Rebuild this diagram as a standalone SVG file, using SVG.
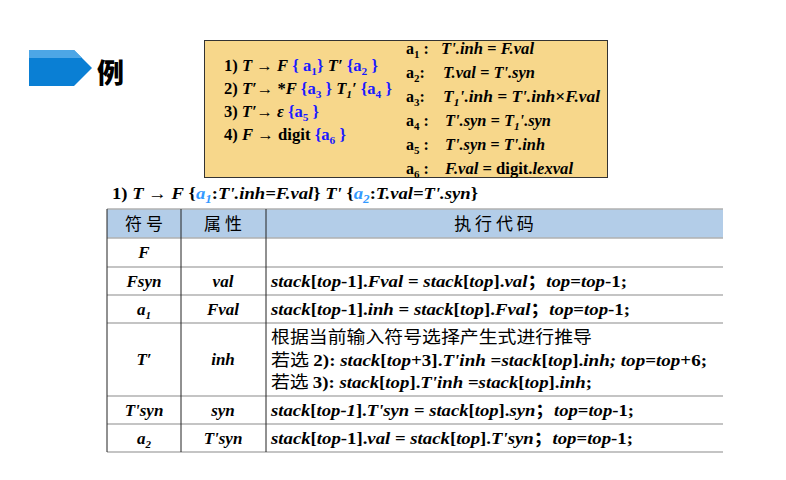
<svg xmlns="http://www.w3.org/2000/svg" width="786" height="480" viewBox="0 0 786 480">
<style>
text{font-family:"Liberation Serif","Noto Sans CJK SC",serif;font-weight:bold;font-size:17px;fill:#000}
.i{font-style:italic}
.b{fill:#1a1aff}
.lb{fill:#3399ff}
.cj{font-family:"Noto Sans CJK SC",sans-serif;font-weight:normal}
.ln{stroke:#b0b0b0;stroke-width:1.5}
.c{text-anchor:middle}
.g{font-size:16px}
</style>
<rect width="786" height="480" fill="#fff"/>
<g id="title">
<polygon points="29,50 74,50 92,68 74,86 29,86" fill="#0a7fd4"/>
<polygon points="29,50 74,50 82,58 29,58" fill="#4da6e6"/>
<text x="97" y="83" style="font-family:'Noto Sans CJK SC',sans-serif;font-weight:900;font-size:27px">例</text>
</g>
<g id="grammar">
<rect x="204.5" y="40.5" width="403" height="137" fill="#f7d78b" stroke="#333" stroke-width="1"/>
<text class="g" x="224" y="71" textLength="154" lengthAdjust="spacingAndGlyphs">1) <tspan class="i">T</tspan> → <tspan class="i">F</tspan> <tspan class="b">{ a<tspan font-size="11" dy="4">1</tspan><tspan dy="-4">}</tspan></tspan> <tspan class="i">T′</tspan> <tspan class="b">{a<tspan font-size="11" dy="4">2</tspan><tspan dy="-4"> }</tspan></tspan></text>
<text class="g" x="224" y="94" textLength="168" lengthAdjust="spacingAndGlyphs">2) <tspan class="i">T′</tspan>→ *<tspan class="i">F</tspan> <tspan class="b">{a<tspan font-size="11" dy="4">3</tspan><tspan dy="-4"> }</tspan></tspan> <tspan class="i">T<tspan font-size="11" dy="4">1</tspan><tspan dy="-4">′</tspan></tspan> <tspan class="b">{a<tspan font-size="11" dy="4">4</tspan><tspan dy="-4"> }</tspan></tspan></text>
<text class="g" x="224" y="117" textLength="95" lengthAdjust="spacingAndGlyphs">3) <tspan class="i">T′</tspan>→ <tspan class="i">ε</tspan> <tspan class="b">{a<tspan font-size="11" dy="4">5</tspan><tspan dy="-4"> }</tspan></tspan></text>
<text class="g" x="224" y="140" textLength="122" lengthAdjust="spacingAndGlyphs">4) <tspan class="i">F</tspan> → digit <tspan class="b">{a<tspan font-size="11" dy="4">6</tspan><tspan dy="-4"> }</tspan></tspan></text>
<text class="g" x="406" y="54">a<tspan font-size="11" dy="4">1</tspan><tspan dy="-4"> :</tspan></text>
<text class="g" x="406" y="78">a<tspan font-size="11" dy="4">2</tspan><tspan dy="-4">:</tspan></text>
<text class="g" x="406" y="102">a<tspan font-size="11" dy="4">3</tspan><tspan dy="-4">:</tspan></text>
<text class="g" x="406" y="126">a<tspan font-size="11" dy="4">4</tspan><tspan dy="-4"> :</tspan></text>
<text class="g" x="406" y="150">a<tspan font-size="11" dy="4">5</tspan><tspan dy="-4"> :</tspan></text>
<text class="g" x="406" y="174">a<tspan font-size="11" dy="4">6</tspan><tspan dy="-4"> :</tspan></text>
<text class="g i" x="441" y="54" textLength="93" lengthAdjust="spacingAndGlyphs">T'.inh = F.val</text>
<text class="g i" x="443" y="78" textLength="92" lengthAdjust="spacingAndGlyphs">T.val = T'.syn</text>
<text class="g i" x="443" y="102" textLength="157" lengthAdjust="spacingAndGlyphs">T<tspan font-size="11" dy="4">1</tspan><tspan dy="-4">'.inh = T'.inh</tspan><tspan font-style="normal">×</tspan>F.val</text>
<text class="g i" x="445" y="126" textLength="106" lengthAdjust="spacingAndGlyphs">T'.syn = T<tspan font-size="11" dy="4">1</tspan><tspan dy="-4">'.syn</tspan></text>
<text class="g i" x="445" y="150" textLength="100" lengthAdjust="spacingAndGlyphs">T'.syn = T'.inh</text>
<text class="g" x="445" y="174" textLength="128" lengthAdjust="spacingAndGlyphs"><tspan class="i">F.val</tspan> = digit.<tspan class="i">lexval</tspan></text>
</g>
<g id="caption">
<text x="112" y="199" textLength="366" lengthAdjust="spacingAndGlyphs">1) <tspan class="i">T</tspan> → <tspan class="i">F</tspan> {<tspan class="i lb">a<tspan font-size="12" dy="4">1</tspan></tspan><tspan dy="-4">:</tspan><tspan class="i">T'.inh=F.val</tspan>} <tspan class="i">T'</tspan> {<tspan class="i lb">a<tspan font-size="12" dy="4">2</tspan></tspan><tspan dy="-4">:</tspan><tspan class="i">T.val=T'.syn</tspan>}</text>
</g>
<g id="table">
<rect x="107" y="209" width="616" height="29" fill="#b3cde8"/>
<g class="ln">
<line x1="107" y1="209" x2="723" y2="209"/>
<line x1="107" y1="238" x2="723" y2="238"/>
<line x1="107" y1="267" x2="723" y2="267"/>
<line x1="107" y1="295" x2="723" y2="295"/>
<line x1="107" y1="323" x2="723" y2="323"/>
<line x1="107" y1="396" x2="723" y2="396"/>
<line x1="107" y1="424" x2="723" y2="424"/>
<line x1="107" y1="452" x2="723" y2="452"/>
</g>
<g stroke="#222" stroke-width="1">
<line x1="107" y1="209" x2="107" y2="452"/>
<line x1="181" y1="209" x2="181" y2="452"/>
<line x1="266" y1="209" x2="266" y2="452"/>
</g>
<text class="cj c" x="144" y="230">符 号</text>
<text class="cj c" x="223" y="230">属 性</text>
<text class="cj c" x="494" y="230">执 行 代 码</text>
<text class="i c" x="144" y="258">F</text>
<text class="i c" x="144" y="287">Fsyn</text><text class="i c" x="223" y="287">val</text>
<text x="271" y="287" textLength="356" lengthAdjust="spacingAndGlyphs"><tspan class="i">stack</tspan>[<tspan class="i">top</tspan>-1].<tspan class="i">Fval</tspan> = <tspan class="i">stack</tspan>[<tspan class="i">top</tspan>].<tspan class="i">val</tspan>；<tspan class="i">top</tspan>=<tspan class="i">top</tspan>-1;</text>
<text class="i c" x="144" y="315">a<tspan font-size="11" dy="4">1</tspan></text><text class="i c" x="223" y="315">Fval</text>
<text x="271" y="315" textLength="359" lengthAdjust="spacingAndGlyphs"><tspan class="i">stack</tspan>[<tspan class="i">top</tspan>-1].<tspan class="i">inh</tspan> = <tspan class="i">stack</tspan>[<tspan class="i">top</tspan>].<tspan class="i">Fval</tspan>；<tspan class="i">top</tspan>=<tspan class="i">top</tspan>-1;</text>
<text class="i c" x="144" y="365">T′</text><text class="i c" x="223" y="365">inh</text>
<text class="cj" x="271" y="343" textLength="321" lengthAdjust="spacingAndGlyphs">根据当前输入符号选择产生式进行推导</text>
<text x="271" y="366" textLength="436" lengthAdjust="spacingAndGlyphs"><tspan class="cj">若选 </tspan>2): <tspan class="i">stack</tspan>[<tspan class="i">top</tspan>+3].<tspan class="i">T'inh</tspan> =<tspan class="i">stack</tspan>[<tspan class="i">top</tspan>].<tspan class="i">inh;  top</tspan>=<tspan class="i">top</tspan>+6;</text>
<text x="271" y="388" textLength="321" lengthAdjust="spacingAndGlyphs"><tspan class="cj">若选 </tspan>3): <tspan class="i">stack</tspan>[<tspan class="i">top</tspan>].<tspan class="i">T'inh</tspan> =<tspan class="i">stack</tspan>[<tspan class="i">top</tspan>].<tspan class="i">inh</tspan>;</text>
<text class="i c" x="144" y="416">T'syn</text><text class="i c" x="223" y="416">syn</text>
<text x="271" y="416" textLength="363" lengthAdjust="spacingAndGlyphs"><tspan class="i">stack</tspan>[<tspan class="i">top-1</tspan>].<tspan class="i">T'syn</tspan> = <tspan class="i">stack</tspan>[<tspan class="i">top</tspan>].<tspan class="i">syn</tspan>；<tspan class="i">top</tspan>=<tspan class="i">top</tspan>-1;</text>
<text class="i c" x="144" y="444">a<tspan font-size="11" dy="4">2</tspan></text><text class="i c" x="223" y="444">T'syn</text>
<text x="271" y="444" textLength="362" lengthAdjust="spacingAndGlyphs"><tspan class="i">stack</tspan>[<tspan class="i">top</tspan>-1].<tspan class="i">val</tspan> = <tspan class="i">stack</tspan>[<tspan class="i">top</tspan>].<tspan class="i">T'syn</tspan>；<tspan class="i">top</tspan>=<tspan class="i">top</tspan>-1;</text>
</g>
</svg>
